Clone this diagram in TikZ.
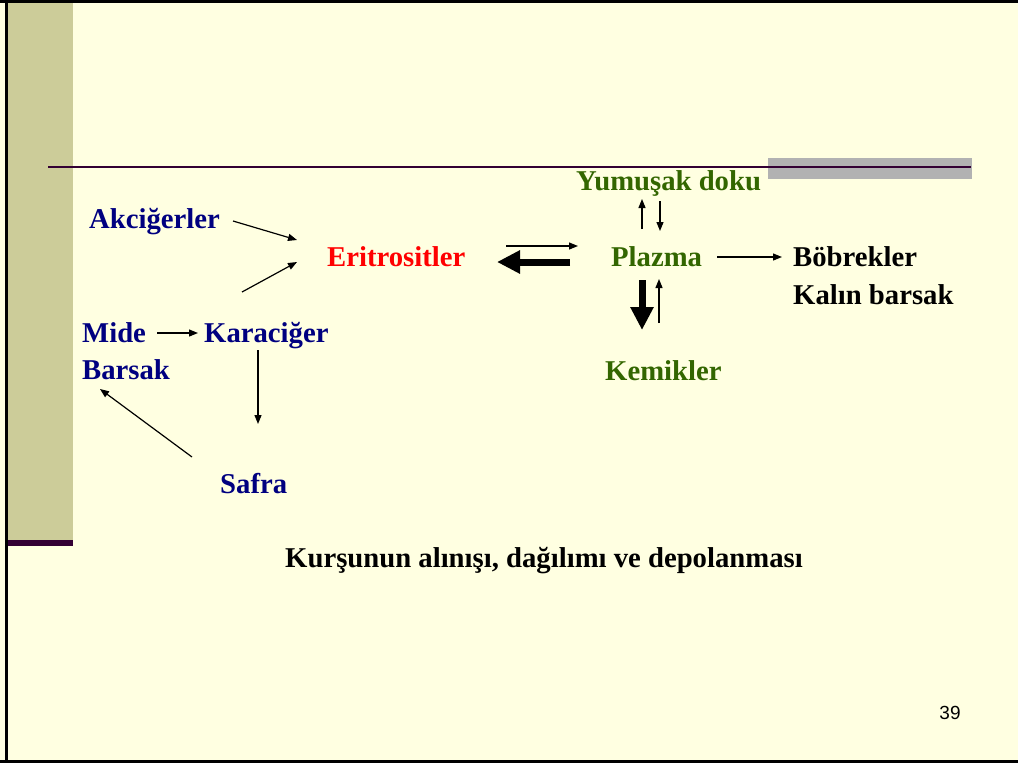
\documentclass[tikz,border=0pt]{standalone}
\usepackage{fontspec}
\setmainfont{Liberation Serif}
\newfontfamily\arialfont{Liberation Sans}
\usetikzlibrary{arrows.meta}
\definecolor{bg}{RGB}{255,255,225}
\definecolor{olive}{RGB}{204,204,153}
\definecolor{plum}{RGB}{51,0,51}
\definecolor{grayrect}{RGB}{178,178,178}
\definecolor{navy}{RGB}{0,0,128}
\definecolor{leaf}{RGB}{51,102,0}
\tikzset{
  lbl/.style={anchor=base west, inner sep=0pt, font=\bfseries\fontsize{28.7}{32}\selectfont},
  blu/.style={lbl, text=navy},
  grn/.style={lbl, text=leaf},
  thin arrow/.style={line width=1.2pt, -{Triangle[length=9pt,width=7pt]}},
  thick arrow/.style={line width=7pt, -{Triangle[length=23pt,width=22pt]}},
}
\begin{document}
\begin{tikzpicture}[x=1pt,y=-1pt]
\useasboundingbox (0,0) rectangle (1018,763);
% background and frame
\fill[bg] (0,0) rectangle (1018,763);
\fill[olive] (8,3) rectangle (73,540);
\fill[plum] (8,540) rectangle (73,546);
\fill[black] (0,0) rectangle (1018,3);
\fill[black] (5,0) rectangle (8,763);
\fill[black] (0,760) rectangle (1018,763);
\fill[grayrect] (768,158) rectangle (972,179);
\draw[plum, line width=2pt] (48,167) -- (971,167);
% labels
\node[blu] (akc) at (89,228) {Akciğerler};
\node[lbl, text=red] (eri) at (327,266) {Eritrositler};
\node[grn] (pla) at (611,266) {Plazma};
\node[lbl] (bob) at (793,266) {Böbrekler};
\node[lbl] (kal) at (793,304) {Kalın barsak};
\node[grn] (yum) at (576,190) {Yumuşak doku};
\node[grn] (kem) at (605,380) {Kemikler};
\node[blu] (mid) at (82,342) {Mide};
\node[blu] (bar) at (82,379) {Barsak};
\node[blu] (kar) at (204,342) {Karaciğer};
\node[blu] (saf) at (220,493) {Safra};
\node[lbl, anchor=base] (tit) at (544,567) {Kurşunun alınışı, dağılımı ve depolanması};
\node[anchor=base, inner sep=0pt, font=\arialfont\fontsize{19}{22}\selectfont] (num) at (950,719) {39};
% arrow end points
\coordinate (a1) at (233,221); \coordinate (a2) at (297,240);
\coordinate (k1) at (242,292); \coordinate (k2) at (297,262);
\coordinate (e1) at (506,246); \coordinate (e2) at (578,246);
\coordinate (p1) at (570,262); \coordinate (p2) at (497,262);
\coordinate (b1) at (717,257); \coordinate (b2) at (782,257);
\coordinate (y1) at (642,229); \coordinate (y2) at (642,199);
\coordinate (y3) at (660,201); \coordinate (y4) at (660,231);
\coordinate (m1) at (642,280); \coordinate (m2) at (642,330);
\coordinate (m3) at (659,323); \coordinate (m4) at (659,279);
\coordinate (md1) at (157,333); \coordinate (md2) at (198,333);
\coordinate (s1) at (258,350); \coordinate (s2) at (258,424);
\coordinate (r1) at (192,457); \coordinate (r2) at (100,389);
% arrows
\draw[thin arrow] (a1) -- (a2);
\draw[thin arrow] (k1) -- (k2);
\draw[thin arrow] (e1) -- (e2);
\draw[thick arrow] (p1) -- (p2);
\draw[thin arrow] (b1) -- (b2);
\draw[thin arrow] (y1) -- (y2);
\draw[thin arrow] (y3) -- (y4);
\draw[thick arrow] (m1) -- (m2);
\draw[thin arrow] (m3) -- (m4);
\draw[thin arrow] (md1) -- (md2);
\draw[thin arrow] (s1) -- (s2);
\draw[thin arrow] (r1) -- (r2);
\end{tikzpicture}
\end{document}
